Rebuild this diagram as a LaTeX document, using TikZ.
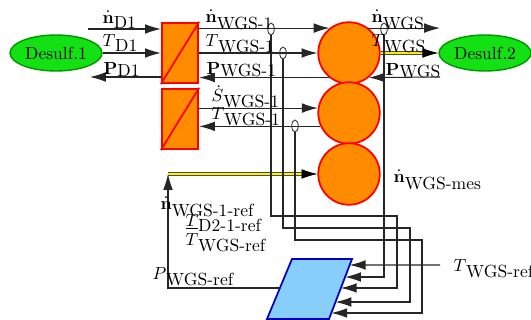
\documentclass[tikz,border=0pt]{standalone}
\usepackage{amsmath}
\usepackage{amsfonts}
\usepackage{tikz}
\usetikzlibrary{shapes.geometric, arrows.meta, calc}
\usepackage{xcolor}

\definecolor{desgreen}{RGB}{20,225,20}
\definecolor{desedge}{RGB}{0,150,0}
\definecolor{reactor}{RGB}{255,140,0}
\definecolor{ctrlblue}{RGB}{135,206,250}
\definecolor{ctrledge}{RGB}{0,0,190}

\newcommand{\sig}[3][3pt]{#2\raisebox{-#1}{#3}}

\begin{document}
\begin{tikzpicture}[x=0.02cm, y=-0.02cm, >={Latex[length=9pt,width=5.5pt]},
    line width=0.6pt, draw=black!85,
    desulf/.style={ellipse, draw=desedge, fill=desgreen, line width=0.8pt, minimum width=1.84cm, minimum height=0.72cm, inner sep=0pt},
    hx/.style={rectangle, draw=red, fill=reactor, line width=1pt, minimum width=0.73cm, minimum height=1.21cm, inner sep=0pt},
    bed/.style={circle, draw=red, fill=reactor, line width=1pt, minimum size=1.23cm, inner sep=0pt},
    valve/.style={ellipse, draw=black!80, line width=0.5pt, minimum width=0.13cm, minimum height=0.24cm, inner sep=0pt},
    lbl/.style={anchor=south west, inner sep=0pt},
    hot/.style={draw=black!70, double=yellow, double distance=1.3pt, line width=0.4pt, -{Latex[length=9pt,width=5.5pt,black]}}]
    \useasboundingbox (0,0) rectangle (531,320);

    % units
    \node[desulf] (d1) at (56,53) {Desulf.1};
    \node[desulf] (d2) at (485,53) {Desulf.2};
    \node[hx] (hx1) at (180,53) {};
    \node[hx] (hx2) at (180,119) {};
    \draw[red, line width=1pt] (hx1.south west) -- (hx1.north east);
    \draw[red, line width=1pt] (hx2.south west) -- (hx2.north east);
    \node[bed] (b1) at (349,53) {};
    \node[bed] (b2) at (349,113) {};
    \node[bed] (b3) at (349,174) {};

    % controller
    \coordinate (pa) at (292,259);
    \coordinate (pb) at (352,259);
    \coordinate (pc) at (329,319);
    \coordinate (pd) at (267,319);
    \draw[draw=ctrledge, fill=ctrlblue, line width=1pt] (pa) -- (pb) -- (pc) -- (pd) -- cycle;
    \coordinate (in1) at ($(pb)!0.1!(pc)$);
    \coordinate (in2) at ($(pb)!0.3!(pc)$);
    \coordinate (in3) at ($(pb)!0.483!(pc)$);
    \coordinate (in4) at ($(pb)!0.717!(pc)$);
    \coordinate (in5) at ($(pb)!0.9!(pc)$);
    \coordinate (out) at ($(pa)!0.483!(pd)$);

    % free ends
    \coordinate (nd1) at (88,29);
    \coordinate (pd1) at (90,77);
    \coordinate (nwgs) at (440,29);
    \coordinate (pwgs) at (440,77);
    \coordinate (nref) at (168,174);
    \coordinate (tin) at (440,265);
    \coordinate (k1) at (397,216);
    \coordinate (k2) at (410,228);
    \coordinate (k3) at (422,240);

    \path[->]
        (nd1) edge (nd1 -| hx1.west)
        (d1.east) edge (d1.east -| hx1.west)
        (pd1 -| hx1.west) edge (pd1)
        (b1.128 -| hx1.east) edge (b1.128)
        (hx1.east) edge (b1.west)
        (b1.231) edge (b1.231 -| hx1.east)
        (b1.52) edge (b1.52 -| nwgs)
        (pwgs) edge (b1.309)
        (b1.east) edge[hot] (d2.west)
        (b2.171 -| hx2.east) edge (b2.171)
        (b2.205) edge (b2.205 -| hx2.east)
        (nref) edge[hot] (b3.west)
        (tin) edge (in1);

    % measurements
    \node[valve] (v1) at (271,29) {};
    \node[valve] (v2) at (283,53) {};
    \node[valve] (v3) at (295,126) {};
    \node[valve] (v4) at (384,29) {};
    \draw[->] (v1.south) |- (k1) |- (in3);
    \draw[->] (v2.south) |- (k2) |- (in4);
    \draw[->] (v3.south) |- (k3) |- (in5);
    \draw[->] (v4.south) |- (in2);
    \draw[->] (out) -| (nref);

    % labels
    \node[lbl] (lnd1) at (102,29) {\sig{$\dot{\mathbf{n}}$}{D1}};
    \node[lbl] (ltd1) at (102,52) {\sig{$T$}{D1}};
    \node[lbl] (lpd1) at (103,77) {\sig[1pt]{$\mathbf{P}$}{D1}};
    \node[lbl] (lnw1) at (205,30) {\sig[4pt]{$\dot{\mathbf{n}}$}{WGS-1}};
    \node[lbl] (ltw1) at (205,53) {\sig{$T$}{WGS-1}};
    \node[lbl] (lpw1) at (206,77) {\sig[1pt]{$\mathbf{P}$}{WGS-1}};
    \node[lbl] (lsw1) at (211,108) {\sig{$\dot{S}$}{WGS-1}};
    \node[lbl] (ltw2) at (211,126) {\sig{$T$}{WGS-1}};
    \node[lbl] (lnw) at (371,30) {\sig[4pt]{$\dot{\mathbf{n}}$}{WGS}};
    \node[lbl] (ltw) at (371,53) {\sig{$T$}{WGS}};
    \node[lbl] (lpw) at (385,78) {\sig[1pt]{$\mathbf{P}$}{WGS}};
    \node[lbl] (lnmes) at (393,190) {\sig[4pt]{$\dot{\mathbf{n}}$}{WGS-mes}};
    \node[lbl] (lnref) at (160,217) {\sig[4pt]{$\dot{\mathbf{n}}$}{WGS-1-ref}};
    \node[lbl] (ltd2) at (185,232) {\sig{\underline{$T$}}{D2-1-ref}};
    \node[lbl] (ltref) at (185,252) {\sig{$T$}{WGS-ref}};
    \node[lbl] (lpref) at (152,286) {\sig{$P$}{WGS-ref}};
    \node[lbl] (ltin) at (453,278) {\sig{$T$}{WGS-ref}};
\end{tikzpicture}
\end{document}
